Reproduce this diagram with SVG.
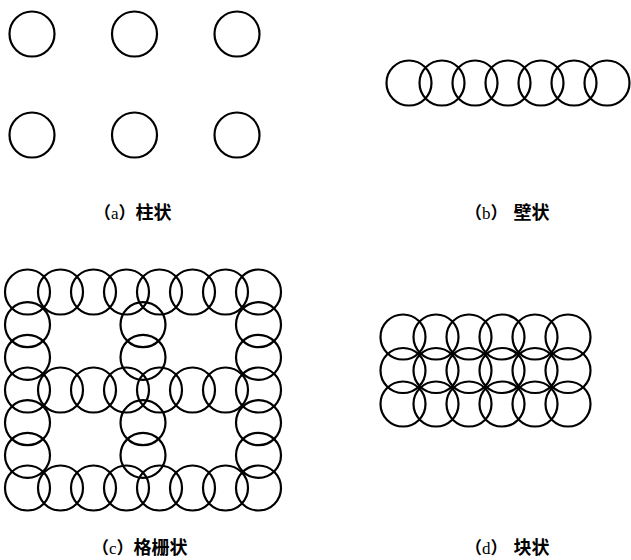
<svg xmlns="http://www.w3.org/2000/svg" width="631" height="560" viewBox="0 0 631 560">
<style>
circle{fill:none;stroke:#000;stroke-width:2.2}
.lbl{font-family:"Noto Sans CJK SC","Noto Sans",sans-serif;font-size:17px;font-weight:bold;fill:#000}
.lt{font-family:"Liberation Serif",serif;font-weight:normal}
.zh{font-size:18px}
</style>
<rect width="631" height="560" fill="#fff"/>
<g id="panel-a">
<circle cx="32" cy="34" r="22.5"/><circle cx="134.5" cy="34" r="22.5"/><circle cx="237" cy="34" r="22.5"/>
<circle cx="32" cy="135" r="22.5"/><circle cx="134.5" cy="135" r="22.5"/><circle cx="237" cy="135" r="22.5"/>
</g>
<g id="panel-b">
<circle cx="409" cy="83" r="22.5"/><circle cx="442" cy="83" r="22.5"/><circle cx="475" cy="83" r="22.5"/><circle cx="508" cy="83" r="22.5"/><circle cx="541" cy="83" r="22.5"/><circle cx="574" cy="83" r="22.5"/><circle cx="607" cy="83" r="22.5"/>
</g>
<g id="panel-c">
<circle cx="27.5" cy="292" r="22.5"/><circle cx="60.5" cy="292" r="22.5"/><circle cx="93.5" cy="292" r="22.5"/><circle cx="126.5" cy="292" r="22.5"/><circle cx="159.5" cy="292" r="22.5"/><circle cx="192.5" cy="292" r="22.5"/><circle cx="225.5" cy="292" r="22.5"/><circle cx="258.5" cy="292" r="22.5"/>
<circle cx="27.5" cy="324.7" r="22.5"/><circle cx="143" cy="324.7" r="22.5"/><circle cx="258.5" cy="324.7" r="22.5"/>
<circle cx="27.5" cy="357.3" r="22.5"/><circle cx="143" cy="357.3" r="22.5"/><circle cx="258.5" cy="357.3" r="22.5"/>
<circle cx="27.5" cy="390" r="22.5"/><circle cx="60.5" cy="390" r="22.5"/><circle cx="93.5" cy="390" r="22.5"/><circle cx="126.5" cy="390" r="22.5"/><circle cx="159.5" cy="390" r="22.5"/><circle cx="192.5" cy="390" r="22.5"/><circle cx="225.5" cy="390" r="22.5"/><circle cx="258.5" cy="390" r="22.5"/>
<circle cx="27.5" cy="422.7" r="22.5"/><circle cx="143" cy="422.7" r="22.5"/><circle cx="258.5" cy="422.7" r="22.5"/>
<circle cx="27.5" cy="455.3" r="22.5"/><circle cx="143" cy="455.3" r="22.5"/><circle cx="258.5" cy="455.3" r="22.5"/>
<circle cx="27.5" cy="488" r="22.5"/><circle cx="60.5" cy="488" r="22.5"/><circle cx="93.5" cy="488" r="22.5"/><circle cx="126.5" cy="488" r="22.5"/><circle cx="159.5" cy="488" r="22.5"/><circle cx="192.5" cy="488" r="22.5"/><circle cx="225.5" cy="488" r="22.5"/><circle cx="258.5" cy="488" r="22.5"/>
</g>
<g id="panel-d">
<circle cx="403" cy="337" r="22.5"/><circle cx="436" cy="337" r="22.5"/><circle cx="469" cy="337" r="22.5"/><circle cx="502" cy="337" r="22.5"/><circle cx="535" cy="337" r="22.5"/><circle cx="568" cy="337" r="22.5"/>
<circle cx="403" cy="370.5" r="22.5"/><circle cx="436" cy="370.5" r="22.5"/><circle cx="469" cy="370.5" r="22.5"/><circle cx="502" cy="370.5" r="22.5"/><circle cx="535" cy="370.5" r="22.5"/><circle cx="568" cy="370.5" r="22.5"/>
<circle cx="403" cy="404" r="22.5"/><circle cx="436" cy="404" r="22.5"/><circle cx="469" cy="404" r="22.5"/><circle cx="502" cy="404" r="22.5"/><circle cx="535" cy="404" r="22.5"/><circle cx="568" cy="404" r="22.5"/>
</g>
<g id="labels">
<text class="lbl" x="94" y="219">（<tspan class="lt">a</tspan>）<tspan class="zh">柱状</tspan></text>
<text class="lbl" x="465" y="219">（<tspan class="lt">b</tspan>）<tspan class="zh" dx="6">壁状</tspan></text>
<text class="lbl" x="92" y="554">（<tspan class="lt">c</tspan>）<tspan class="zh">格栅状</tspan></text>
<text class="lbl" x="465" y="554">（<tspan class="lt">d</tspan>）<tspan class="zh" dx="6">块状</tspan></text>
</g>
</svg>
